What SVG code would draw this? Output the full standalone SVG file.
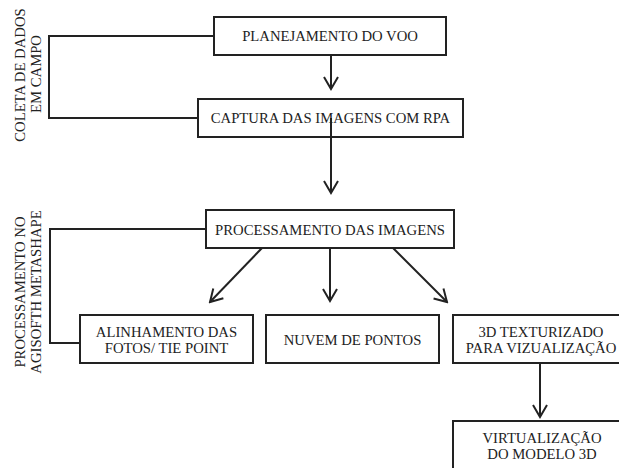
<svg xmlns="http://www.w3.org/2000/svg" width="619" height="468" viewBox="0 0 619 468">
<style>
.box{fill:#fff;stroke:#222;stroke-width:2}
.t{font-size:14.7px;fill:#222;text-anchor:middle}
.ln{fill:none;stroke:#222;stroke-width:2}
.ar{fill:none;stroke:#222;stroke-width:2;marker-end:url(#ah)}
</style>
<defs>
<marker id="ah" markerUnits="userSpaceOnUse" viewBox="-15 -10 17 20" markerWidth="17" markerHeight="20" refX="0" refY="0" orient="auto">
<path d="M-12,-7 L0,0 L-12,7" fill="none" stroke="#222" stroke-width="2"/>
</marker>
</defs>
<rect width="619" height="468" fill="#fff"/>
<g font-family="'Liberation Serif', 'DejaVu Serif', serif">
<g id="group-coleta">
<text class="t" transform="translate(25,75) rotate(-90)">COLETA DE DADOS</text>
<text class="t" transform="translate(41,74) rotate(-90)">EM CAMPO</text>
</g>
<g id="group-processamento">
<text class="t" transform="translate(25,292) rotate(-90)">PROCESSAMENTO NO</text>
<text class="t" transform="translate(41,292) rotate(-90)">AGISOFTH METASHAPE</text>
</g>
<g id="brackets">
<path class="ln" d="M214,36 H49 V118 H198"/>
<path class="ln" d="M206,229 H50 V343 H80"/>
</g>
<g id="n1"><rect class="box" x="214" y="17" width="232" height="38"/><text class="t" x="330" y="41">PLANEJAMENTO DO VOO</text></g>
<g id="n2"><rect class="box" x="198" y="99" width="265" height="38"/><text class="t" x="330.5" y="123">CAPTURA DAS IMAGENS COM RPA</text></g>
<g id="n3"><rect class="box" x="206" y="210" width="248" height="38"/><text class="t" x="330" y="234.5">PROCESSAMENTO DAS IMAGENS</text></g>
<g id="n4"><rect class="box" x="80" y="315" width="173" height="48"/><text class="t" x="166.5" y="336.5">ALINHAMENTO DAS</text><text class="t" x="166.5" y="353">FOTOS/ TIE POINT</text></g>
<g id="n5"><rect class="box" x="266" y="315" width="173" height="48"/><text class="t" x="352.5" y="345">NUVEM DE PONTOS</text></g>
<g id="n6"><rect class="box" x="453" y="315" width="177" height="48"/><text class="t" x="541" y="336.5">3D TEXTURIZADO</text><text class="t" x="541" y="353">PARA VIZUALIZAÇÃO</text></g>
<g id="n7"><rect class="box" x="453" y="421" width="177" height="60"/><text class="t" x="542" y="442.5">VIRTUALIZAÇÃO</text><text class="t" x="542" y="459">DO MODELO 3D</text></g>
</g>
<g id="connectors">
<path class="ar" d="M331,55 V89"/>
<path class="ar" d="M331,118 V193"/>
<path class="ar" d="M262,248 L210,302"/>
<path class="ar" d="M330,248 V301"/>
<path class="ar" d="M393,248 L447,302"/>
<path class="ar" d="M540,363 V417"/>
</g>
</svg>
